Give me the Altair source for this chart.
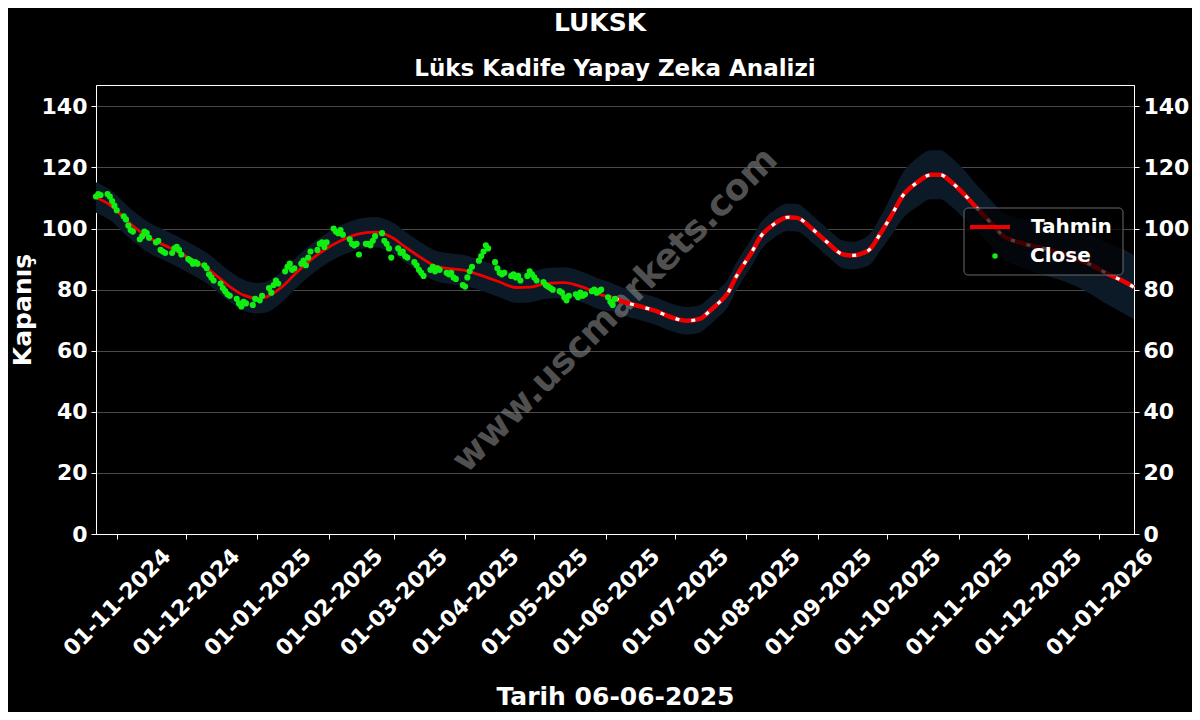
import altair as alt
import pandas as pd

# ---------------- texts ----------------
title_text = "LUKSK"
subtitle_text = "Lüks Kadife Yapay Zeka Analizi"
x_title = "Tarih 06-06-2025"
y_title = "Kapanış"
watermark_text = "www.uscmarkets.com"
series_names = ["Tahmin", "Close"]

# ---------------- forecast (Tahmin) ----------------
tahmin_dates = [
    "2024-10-23", "2024-10-29", "2024-11-07", "2024-11-15", "2024-11-24", "2024-12-02",
    "2024-12-11", "2024-12-20", "2024-12-26", "2025-01-01", "2025-01-04", "2025-01-11",
    "2025-01-19", "2025-01-28", "2025-02-06", "2025-02-15", "2025-02-21", "2025-02-28",
    "2025-03-06", "2025-03-13", "2025-03-19", "2025-03-26", "2025-04-01", "2025-04-07",
    "2025-04-16", "2025-04-23", "2025-04-29", "2025-05-06", "2025-05-14", "2025-05-22",
    "2025-05-30", "2025-06-05", "2025-06-07", "2025-06-16", "2025-06-22", "2025-06-30",
    "2025-07-06", "2025-07-12", "2025-07-15", "2025-07-19", "2025-07-24", "2025-07-27",
    "2025-07-31", "2025-08-03", "2025-08-07", "2025-08-13", "2025-08-19", "2025-08-23",
    "2025-08-29", "2025-09-05", "2025-09-12", "2025-09-16", "2025-09-23", "2025-09-28",
    "2025-10-03", "2025-10-08", "2025-10-14", "2025-10-20", "2025-10-24", "2025-10-29",
    "2025-11-03", "2025-11-09", "2025-11-15", "2025-11-20", "2025-11-28", "2025-12-06",
    "2025-12-18", "2025-12-27", "2026-01-04", "2026-01-13", "2026-01-16",
]
tahmin_values = [
    110.2, 107.8, 101.5, 97.0, 93.7, 90.5,
    86.5, 81.0, 78.2, 77.2, 77.4, 80.5,
    86.4, 92.0, 96.0, 98.4, 98.8, 97.2,
    94.0, 90.4, 87.8, 86.8, 86.3, 84.9,
    82.5, 80.7, 80.8, 82.0, 82.3, 80.8,
    78.3, 77.2, 76.5, 74.5, 73.2, 70.8,
    69.8, 70.5, 72.3, 75.0, 79.0, 83.5,
    88.5, 91.9, 97.2, 101.5, 103.7, 103.5,
    100.2, 95.5, 91.5, 91.2, 92.9, 98.3,
    104.5, 111.0, 115.1, 117.6, 117.6, 115.1,
    111.5, 106.6, 101.8, 97.8, 95.3, 93.8,
    91.3, 88.6, 85.4, 82.1, 80.8,
]
band_half = [
    5, 5, 5, 5, 5, 5,
    5, 5, 5, 5, 5, 5,
    5, 5, 5, 5, 5, 5,
    5, 5, 5, 5, 5, 5,
    5, 5, 5, 5, 5, 5,
    5, 4.5, 4.5, 4.5, 4.5, 4.5,
    4.5, 4.5, 4.5, 4.5, 4.5, 4.5,
    4.5, 4.5, 4.5, 4.5, 4.5, 4.5,
    4.5, 4.5, 4.5, 4.5, 5, 5.5,
    6.5, 7.5, 8, 8, 8, 8,
    8, 7.5, 7.5, 7.5, 8, 8.5,
    9, 9.5, 10, 10.5, 10.5,
]
forecast_start = "2025-06-05"

# ---------------- closing prices (business days) ----------------
close_start = "2024-10-23"
close_end = "2025-06-05"
close_holidays = ["2025-01-01"]
close_values = [
    110.5, 111.3, 111.0,
    111.3, 110.5, 109.0, 107.5, 106.0,
    104.0, 103.0, 101.0, 99.5, 99.0,
    96.5, 97.5, 99.0, 98.5, 97.0,
    95.5, 96.0, 93.0, 92.5, 92.0,
    92.0, 93.5, 94.0, 93.0, 91.5,
    90.0, 89.5, 88.5, 89.0, 88.5,
    88.0, 87.0, 85.0, 84.0, 83.0,
    82.0, 80.5, 79.5, 78.5, 78.0,
    77.0, 75.5, 74.5, 76.0, 75.5,
    75.0, 77.0, 76.5, 78.0,
    80.5, 79.0, 81.5, 83.0, 82.0,
    86.0, 87.5, 88.5, 86.5, 87.0,
    88.5, 89.5, 88.0, 90.5, 92.5,
    93.0, 95.0, 95.5, 94.0, 95.5,
    100.0, 99.0, 98.5, 99.5, 98.0,
    96.5, 95.0, 94.5, 95.0, 91.5,
    95.0, 95.0, 94.5, 96.0, 97.5,
    98.5, 96.0, 95.0, 93.5, 90.5,
    93.5, 92.0, 92.5, 91.0, 90.5,
    89.0, 88.0, 86.5, 85.5, 84.5,
    86.5, 87.5, 86.0, 87.0, 86.5,
    85.5, 85.0, 85.5, 84.0, 83.5,
    81.5, 81.0, 84.0, 86.0, 87.5,
    89.5, 91.0, 92.5, 94.5, 93.5,
    89.0, 87.0, 85.5, 85.0, 85.5,
    84.5, 85.0, 84.0, 84.5, 83.0,
    84.5, 86.0, 85.0, 84.0, 83.0,
    82.5, 81.5, 81.0, 80.5, 80.0,
    79.5, 79.0, 77.5, 76.5, 78.0,
    78.5, 77.5, 79.0, 78.0, 78.5,
    79.5, 80.0, 79.0, 79.5, 80.0,
    77.5, 76.0, 75.0, 77.0,
]

# ---------------- axes ----------------
y_ticks = [0, 20, 40, 60, 80, 100, 120, 140]
y_domain = [0, 147]
x_tick_dates = [
    "2024-11-01", "2024-12-01", "2025-01-01", "2025-02-01", "2025-03-01",
    "2025-04-01", "2025-05-01", "2025-06-01", "2025-07-01", "2025-08-01",
    "2025-09-01", "2025-10-01", "2025-11-01", "2025-12-01", "2026-01-01",
]

# ---------------- styles ----------------
FONT = "DejaVu Sans"
RED = "#ee0000"
GREEN = "#11ee11"
BAND = "#0c1a28"
GRID = "#5c5c5c"
TICK_FS = 22
TITLE_FS = 25


def dt(s):
    y, m, d = (int(p) for p in s.split("-"))
    return alt.DateTime(year=y, month=m, date=d, utc=True)


close_dates = [
    d.strftime("%Y-%m-%d")
    for d in pd.bdate_range(close_start, close_end)
    if d.strftime("%Y-%m-%d") not in close_holidays
]
assert len(close_dates) == len(close_values)

tahmin_df = pd.DataFrame({
    "date": tahmin_dates,
    "value": tahmin_values,
    "lo": [v - h for v, h in zip(tahmin_values, band_half)],
    "hi": [v + h for v, h in zip(tahmin_values, band_half)],
    "series": series_names[0],
})
forecast_df = tahmin_df[tahmin_df["date"] >= forecast_start]
close_df = pd.DataFrame({"date": close_dates, "value": close_values, "series": series_names[1]})

x_scale = alt.Scale(type="utc", domain=[dt(tahmin_dates[0]), dt(tahmin_dates[-1])])
x_axis = alt.Axis(
    values=[dt(s) for s in x_tick_dates], format="%d-%m-%Y",
    labelAngle=315, labelAlign="center", labelBaseline="middle", labelPadding=63,
    labelFontSize=TICK_FS, labelFontWeight="bold", labelColor="white", labelFont=FONT,
    labelOverlap=False, labelFlush=False, labelBound=False,
    tickColor="white", tickSize=5, tickWidth=1, domainColor="white", grid=False,
    title=x_title, titleFontSize=TITLE_FS, titleFontWeight="bold", titleColor="white",
    titleFont=FONT, titleY=162, titleBaseline="middle",
)
x_enc = alt.X("date:T", scale=x_scale, axis=x_axis)

y_scale = alt.Scale(domain=y_domain, nice=False, zero=False)
y_axis_left = alt.Axis(
    orient="left", values=y_ticks, grid=True, gridColor=GRID, gridWidth=0.8,
    labelFontSize=TICK_FS, labelFontWeight="bold", labelColor="white", labelFont=FONT,
    labelPadding=4, tickColor="white", tickSize=5, domainColor="white",
    title=y_title, titleFontSize=TITLE_FS, titleFontWeight="bold", titleColor="white",
    titleFont=FONT, titleX=-74, titleBaseline="middle", titleAngle=270,
)
y_axis_right = alt.Axis(
    orient="right", values=y_ticks, grid=False,
    labelFontSize=TICK_FS, labelFontWeight="bold", labelColor="white", labelFont=FONT,
    labelPadding=4, tickColor="white", tickSize=5, domainColor="white", title="",
)

band = alt.Chart(tahmin_df).mark_area(color=BAND, interpolate="monotone").encode(
    x=x_enc,
    y=alt.Y("lo:Q", scale=y_scale, axis=y_axis_left),
    y2="hi:Q",
)

wm = alt.Chart(pd.DataFrame({"t": [watermark_text]})).mark_text(
    angle=315, fontSize=36, fontWeight="bold", font=FONT, color="#8a8a8a", opacity=0.58,
).encode(text="t:N", x=alt.value(519), y=alt.value(225))

red_line = alt.Chart(tahmin_df).mark_line(strokeWidth=2.8, interpolate="monotone").encode(
    x=x_enc,
    y=alt.Y("value:Q", scale=y_scale, axis=y_axis_left),
    color=alt.Color(
        "series:N",
        scale=alt.Scale(domain=[series_names[0]], range=[RED]),
        legend=alt.Legend(
            orient="none", legendX=872, legendY=120, title=None,
            symbolType="stroke", symbolStrokeWidth=4, symbolSize=1600,
            labelOffset=19, labelFontSize=20, labelFontWeight="bold",
            labelColor="white", labelFont=FONT,
        ),
    ),
)

red_fc = alt.Chart(forecast_df).mark_line(color=RED, strokeWidth=4.5, interpolate="monotone").encode(
    x=x_enc, y=alt.Y("value:Q", scale=y_scale, axis=y_axis_left),
)
white_dash = alt.Chart(forecast_df).mark_line(
    color="white", strokeWidth=3.2, strokeDash=[4, 12], interpolate="monotone"
).encode(x=x_enc, y=alt.Y("value:Q", scale=y_scale, axis=y_axis_left))

frame = alt.Chart(pd.DataFrame({"f": [1]})).mark_rect(
    fill="black", fillOpacity=0.72, stroke="#6a6a6a", strokeWidth=1, cornerRadius=4,
).encode(x=alt.value(868), x2=alt.value(1027), y=alt.value(123), y2=alt.value(190))

main_title = alt.Chart(pd.DataFrame({"t": [title_text]})).mark_text(
    fontSize=TITLE_FS, fontWeight="bold", font=FONT, color="white", baseline="middle", align="center",
).encode(text="t:N", x=alt.value(504), y=alt.value(-62))

sub_title = alt.Chart(pd.DataFrame({"t": [subtitle_text]})).mark_text(
    fontSize=23, fontWeight="bold", font=FONT, color="white", baseline="middle", align="center",
).encode(text="t:N", x=alt.value(519), y=alt.value(-16))

left_group = alt.layer(band, wm, red_line, red_fc, white_dash, frame, main_title, sub_title)

points = alt.Chart(close_df).mark_circle(size=38, opacity=1).encode(
    x=x_enc,
    y=alt.Y("value:Q", scale=y_scale, axis=y_axis_right),
    color=alt.Color(
        "series:N",
        scale=alt.Scale(domain=[series_names[1]], range=[GREEN]),
        legend=alt.Legend(
            orient="none", legendX=889, legendY=161, title=None,
            symbolType="circle", symbolSize=30, symbolStrokeWidth=0,
            labelOffset=25, labelFontSize=20, labelFontWeight="bold",
            labelColor="white", labelFont=FONT,
        ),
    ),
)

chart = alt.layer(left_group, points).resolve_scale(
    y="independent", color="independent"
).properties(
    width=1038, height=449,
    autosize=alt.AutoSizeParams(type="none"),
    padding={"left": 88, "top": 77, "right": 58, "bottom": 178},
).configure(background="black").configure_view(stroke="white", strokeWidth=1)

chart.save("out.html", embed_options={"renderer": "svg", "actions": False})
